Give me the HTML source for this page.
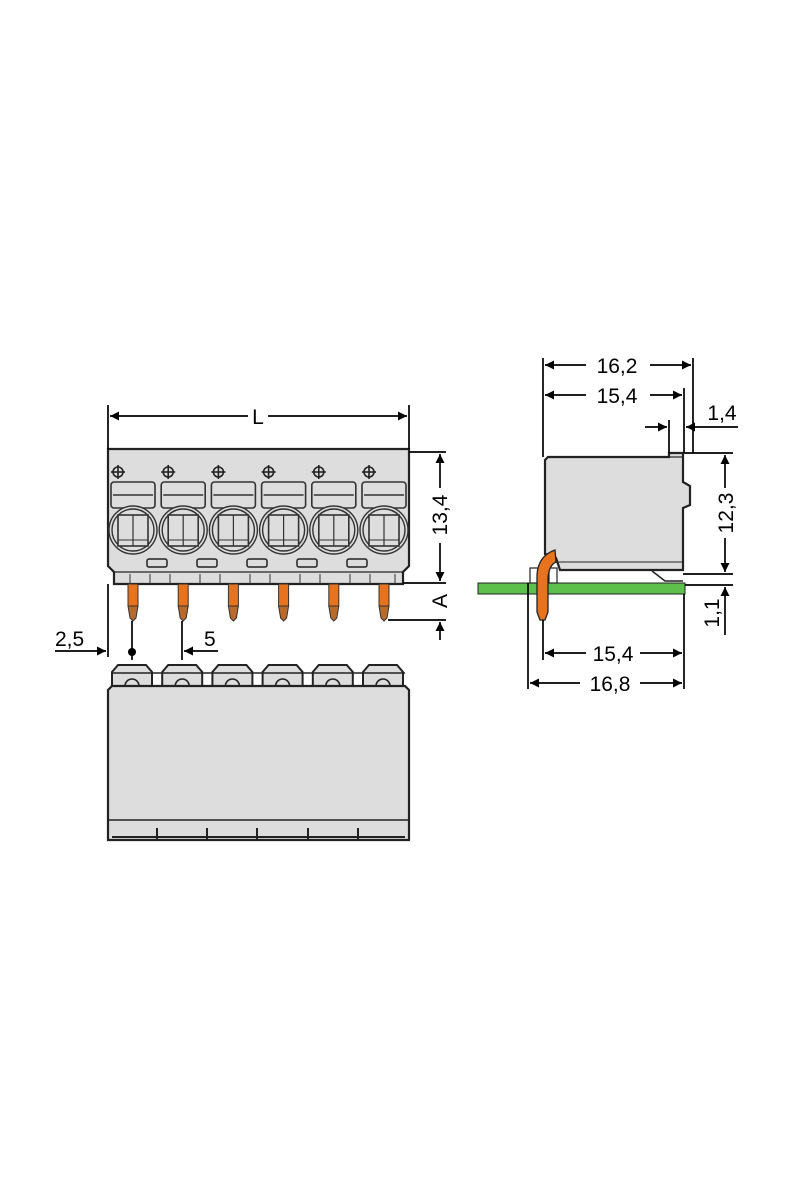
<!DOCTYPE html>
<html><head><meta charset="utf-8"><style>
html,body{margin:0;padding:0;background:#fff;width:800px;height:1200px;overflow:hidden}
svg text{font-family:"Liberation Sans",Arial,sans-serif;font-size:21px;fill:#000}
</style></head><body>
<svg width="800" height="1200" viewBox="0 0 800 1200" xmlns="http://www.w3.org/2000/svg">
<defs>
<marker id="a" viewBox="0 0 10 10" refX="10" refY="5" markerWidth="12" markerHeight="9" markerUnits="userSpaceOnUse" orient="auto-start-reverse"><path d="M0,0 L10,5 L0,10 z" fill="#000"/></marker>
<g id="pole">
  <circle cx="-14" cy="472" r="5" fill="none" stroke="#222" stroke-width="1.6"/>
  <line x1="-14" y1="465" x2="-14" y2="479" stroke="#222" stroke-width="1.6"/>
  <line x1="-21" y1="472" x2="-7" y2="472" stroke="#222" stroke-width="1.6"/>
  <rect x="-21" y="482" width="44" height="26" rx="3" fill="#ddd" stroke="#333" stroke-width="1.6"/>
  <line x1="-19" y1="495" x2="21" y2="495" stroke="#333" stroke-width="1.5"/>
  <circle cx="1" cy="530" r="24" fill="#ddd" stroke="#333" stroke-width="1.4"/>
  <circle cx="1" cy="530" r="21" fill="none" stroke="#333" stroke-width="1.4"/>
  <rect x="-14" y="515" width="30" height="31" fill="#ddd" stroke="#333" stroke-width="1.6"/>
  <line x1="1" y1="515" x2="1" y2="546" stroke="#333" stroke-width="1.2"/>
  <line x1="-14" y1="540" x2="16" y2="540" stroke="#333" stroke-width="1"/>
  <rect x="-4" y="584" width="10" height="22" fill="#e8731e" stroke="#333" stroke-width="1"/>
  <path d="M-4,606 L6,606 L4,618 L1,621 L-2,618 z" fill="#b86a2a" stroke="#333" stroke-width="1"/>
</g>
<g id="bump">
  <path d="M-20,686 L-20,672 L-14,665 L14,665 L20,672 L20,686" fill="#ddd" stroke="#222" stroke-width="2"/>
  <path d="M-7,686 A7,7 0 1 1 7,686" fill="#ddd" stroke="#222" stroke-width="1.6"/>
</g>
</defs>

<!-- FRONT VIEW -->
<path d="M108,449 L409,449 L409,566 L403,572 L403,584 L114,584 L114,572 L108,566 Z" fill="#ddd" stroke="#222" stroke-width="2.2"/>
<line x1="114" y1="572" x2="403" y2="572" stroke="#222" stroke-width="1.3"/>
<g stroke="#333" stroke-width="1">
<line x1="130" y1="574" x2="130" y2="584"/><line x1="150" y1="574" x2="150" y2="584"/><line x1="170" y1="574" x2="170" y2="584"/><line x1="200" y1="574" x2="200" y2="584"/><line x1="220" y1="574" x2="220" y2="584"/><line x1="250" y1="574" x2="250" y2="584"/><line x1="270" y1="574" x2="270" y2="584"/><line x1="300" y1="574" x2="300" y2="584"/><line x1="320" y1="574" x2="320" y2="584"/><line x1="350" y1="574" x2="350" y2="584"/><line x1="370" y1="574" x2="370" y2="584"/><line x1="395" y1="574" x2="395" y2="584"/>
</g>
<use href="#pole" transform="translate(132,0)"/>
<use href="#pole" transform="translate(182.2,0)"/>
<use href="#pole" transform="translate(232.4,0)"/>
<use href="#pole" transform="translate(282.6,0)"/>
<use href="#pole" transform="translate(332.8,0)"/>
<use href="#pole" transform="translate(383,0)"/>
<g fill="#ddd" stroke="#222" stroke-width="1.5">
<rect x="147" y="559" width="20" height="8" rx="2"/><rect x="197" y="559" width="20" height="8" rx="2"/><rect x="247" y="559" width="20" height="8" rx="2"/><rect x="297" y="559" width="20" height="8" rx="2"/><rect x="347" y="559" width="20" height="8" rx="2"/>
</g>

<!-- front dims -->
<g stroke="#000" stroke-width="1.7" fill="none">
<line x1="108" y1="405" x2="108" y2="449"/><line x1="409" y1="405" x2="409" y2="449"/>
<line x1="110" y1="416" x2="248" y2="416" marker-start="url(#a)"/><line x1="268" y1="416" x2="407" y2="416" marker-end="url(#a)"/>
<line x1="409" y1="452" x2="446" y2="452"/><line x1="403" y1="583" x2="446" y2="583"/><line x1="388" y1="620" x2="446" y2="620"/>
<line x1="440" y1="488" x2="440" y2="454" marker-end="url(#a)"/><line x1="440" y1="543" x2="440" y2="581" marker-end="url(#a)"/>
<line x1="440" y1="640" x2="440" y2="622" marker-end="url(#a)"/>
<line x1="108" y1="584" x2="108" y2="657"/>
<line x1="55" y1="651" x2="106" y2="651" marker-end="url(#a)"/>
<line x1="132" y1="621" x2="132" y2="660"/>
<line x1="182" y1="621" x2="182" y2="660"/>
<line x1="218" y1="651" x2="184" y2="651" marker-end="url(#a)"/>
</g>
<circle cx="132" cy="652" r="4" fill="#000"/>
<text x="258" y="424" text-anchor="middle">L</text>
<text transform="translate(447,515) rotate(-90)" text-anchor="middle">13,4</text>
<text transform="translate(447,601) rotate(-90)" text-anchor="middle">A</text>
<text x="55" y="646">2,5</text>
<text x="204" y="646">5</text>

<!-- BOTTOM VIEW -->
<use href="#bump" transform="translate(132,0)"/>
<use href="#bump" transform="translate(182.2,0)"/>
<use href="#bump" transform="translate(232.4,0)"/>
<use href="#bump" transform="translate(282.6,0)"/>
<use href="#bump" transform="translate(332.8,0)"/>
<use href="#bump" transform="translate(383,0)"/>
<path d="M112,673 L405,673" stroke="#222" stroke-width="1.5"/>
<path d="M108,690 L112,686 L405,686 L409,690 L409,840 L108,840 Z" fill="#ddd" stroke="#222" stroke-width="2.2"/>
<line x1="108" y1="820" x2="409" y2="820" stroke="#222" stroke-width="1.4"/>
<line x1="112" y1="837" x2="405" y2="837" stroke="#222" stroke-width="2"/>
<g stroke="#222" stroke-width="2"><line x1="157" y1="828" x2="157" y2="840"/><line x1="207" y1="828" x2="207" y2="840"/><line x1="257" y1="828" x2="257" y2="840"/><line x1="308" y1="828" x2="308" y2="840"/><line x1="358" y1="828" x2="358" y2="840"/></g>

<!-- SIDE VIEW -->
<rect x="478" y="583" width="207" height="11" fill="#5cc04a" stroke="#222" stroke-width="1"/>
<path d="M545,460 L548,457 L669,457 L669,453 L683,453 L683,482 L690,486 L690,505 L683,508 L683,570 L560,570 L556,558 L549,555 L545,554 Z" fill="#ddd" stroke="#222" stroke-width="2.2"/>
<line x1="669" y1="457" x2="683" y2="457" stroke="#222" stroke-width="1.2"/>
<line x1="556" y1="562" x2="683" y2="562" stroke="#222" stroke-width="1"/>
<path d="M652,571 L665,581 L683,581" fill="none" stroke="#222" stroke-width="1.5"/>
<rect x="530" y="568" width="8" height="15" fill="#fff" stroke="#222" stroke-width="1.2"/>
<rect x="549" y="568" width="8" height="15" fill="#fff" stroke="#222" stroke-width="1.2"/>
<path d="M537,612 L537,575 Q538,556 555,550 L556,562 Q549,565 548,578 L548,612 L545,620 L540,620 Z" fill="#e8731e" stroke="#222" stroke-width="1.3"/>

<g stroke="#000" stroke-width="1.7" fill="none">
<line x1="543" y1="358" x2="543" y2="457"/><line x1="693" y1="358" x2="693" y2="453"/><line x1="684" y1="388" x2="684" y2="453"/><line x1="669" y1="420" x2="669" y2="453"/>
<line x1="586" y1="365" x2="545" y2="365" marker-end="url(#a)"/><line x1="650" y1="365" x2="691" y2="365" marker-end="url(#a)"/>
<line x1="586" y1="395" x2="545" y2="395" marker-end="url(#a)"/><line x1="650" y1="395" x2="682" y2="395" marker-end="url(#a)"/>
<line x1="645" y1="427" x2="667" y2="427" marker-end="url(#a)"/><line x1="738" y1="427" x2="686" y2="427" marker-end="url(#a)"/>
<line x1="684" y1="453" x2="733" y2="453"/><line x1="683" y1="574" x2="733" y2="574"/><line x1="685" y1="585" x2="733" y2="585"/>
<line x1="725" y1="488" x2="725" y2="455" marker-end="url(#a)"/><line x1="725" y1="538" x2="725" y2="572" marker-end="url(#a)"/>
<line x1="725" y1="635" x2="725" y2="587" marker-end="url(#a)"/>
<line x1="543" y1="620" x2="543" y2="660"/><line x1="528" y1="583" x2="528" y2="689"/><line x1="684" y1="594" x2="684" y2="689"/>
<line x1="586" y1="653" x2="545" y2="653" marker-end="url(#a)"/><line x1="640" y1="653" x2="682" y2="653" marker-end="url(#a)"/>
<line x1="580" y1="683" x2="530" y2="683" marker-end="url(#a)"/><line x1="640" y1="683" x2="682" y2="683" marker-end="url(#a)"/>
</g>
<text x="617" y="373" text-anchor="middle">16,2</text>
<text x="617" y="403" text-anchor="middle">15,4</text>
<text x="722" y="420" text-anchor="middle">1,4</text>
<text transform="translate(733,513) rotate(-90)" text-anchor="middle">12,3</text>
<text transform="translate(719,613) rotate(-90)" text-anchor="middle">1,1</text>
<text x="613" y="661" text-anchor="middle">15,4</text>
<text x="610" y="691" text-anchor="middle">16,8</text>
</svg>
</body></html>
